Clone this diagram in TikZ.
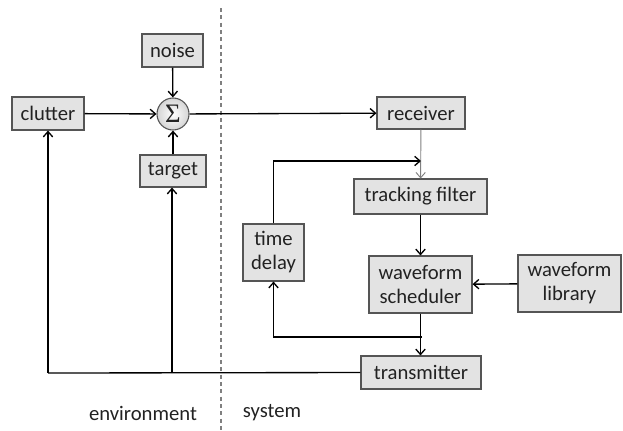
\documentclass[tikz,border=0pt]{standalone}
\usepackage{fontspec}
\setmainfont{Carlito}
\newfontfamily\sigfont{Liberation Serif}
\usetikzlibrary{arrows.meta}
\definecolor{boxfill}{HTML}{E3E3E3}
\definecolor{boxdraw}{HTML}{555555}
\definecolor{txt}{HTML}{222222}
\tikzset{
  blk/.style={draw=boxdraw, fill=boxfill, line width=0.8pt, inner sep=0pt, align=center, text=txt, font=\fontsize{15.5}{18}\selectfont},
  conn/.style={line width=1pt, -{Straight Barb[length=4pt,width=7pt]}},
  plain/.style={line width=1pt},
  lbl/.style={text=txt, font=\fontsize{15.5}{18}\selectfont},
}
\newcommand{\blkat}[6]{\node[blk, minimum width=#4*0.75pt, minimum height=#5*0.75pt] (#1) at (#2,#3) {#6};}
\begin{document}
\begin{tikzpicture}[x=0.75pt,y=-0.75pt]
\useasboundingbox (0,0) rectangle (623,430);
% dashed separator
\draw[line width=0.8pt, draw=gray, dash pattern=on 3pt off 2.5pt] (221,8) -- (221,430);
% boxes (center x, center y, width, height)
\blkat{noise}{172.5}{50.5}{61}{33}{noise}
\blkat{clutter}{48}{113.5}{72}{33}{clutter}
\blkat{target}{173}{171}{66}{32}{target}
\blkat{receiver}{421}{113}{88}{32}{receiver}
\blkat{tracking}{420.5}{196.5}{133}{35}{tracking filter}
\blkat{delay}{273.5}{252.5}{61}{57}{time\\delay}
\blkat{sched}{420.5}{284.5}{103}{57}{waveform\\scheduler}
\blkat{library}{569.5}{283.5}{103}{57}{waveform\\library}
\blkat{tx}{421}{372.5}{120}{33}{transmitter}
% sum node
\node[circle, draw=boxdraw, line width=0.8pt, inner sep=0pt, minimum size=32*0.75pt,
  shading=radial, inner color=white, outer color=boxfill!85!gray, text=txt, font=\sigfont\fontsize{20}{20}\selectfont] (sum) at (173,114) {Σ};
% coordinates
\coordinate (fb) at (421,161);
\coordinate (split) at (422,337);
\coordinate (txl) at (48,373);
\coordinate (tgtj) at (172,373);
% connectors
\draw[conn] (noise) -- (sum);
\draw[conn] (clutter) -- (sum);
\draw[conn] (target) -- (sum);
\draw[conn] (sum) -- (receiver);
\draw[line width=0.7pt, draw=gray, -{Straight Barb[length=4pt,width=7pt]}] (receiver) -- (tracking);
\draw[conn] (delay.north) |- (fb);
\draw[conn] (tracking) -- (sched);
\draw[conn] (library) -- (sched);
\draw[conn] (sched.south) -- (sched.south |- tx.north);
\draw[conn] (split) -| (delay.south);
\draw[plain] (tx.west) -- (txl);
\draw[conn] (txl) -- (clutter.south);
\draw[conn] (tgtj) -- (tgtj |- target.south);
% labels
\node[lbl] (env) at (143,413) {environment};
\node[lbl] (sys) at (272,413) {system};
\end{tikzpicture}
\end{document}
